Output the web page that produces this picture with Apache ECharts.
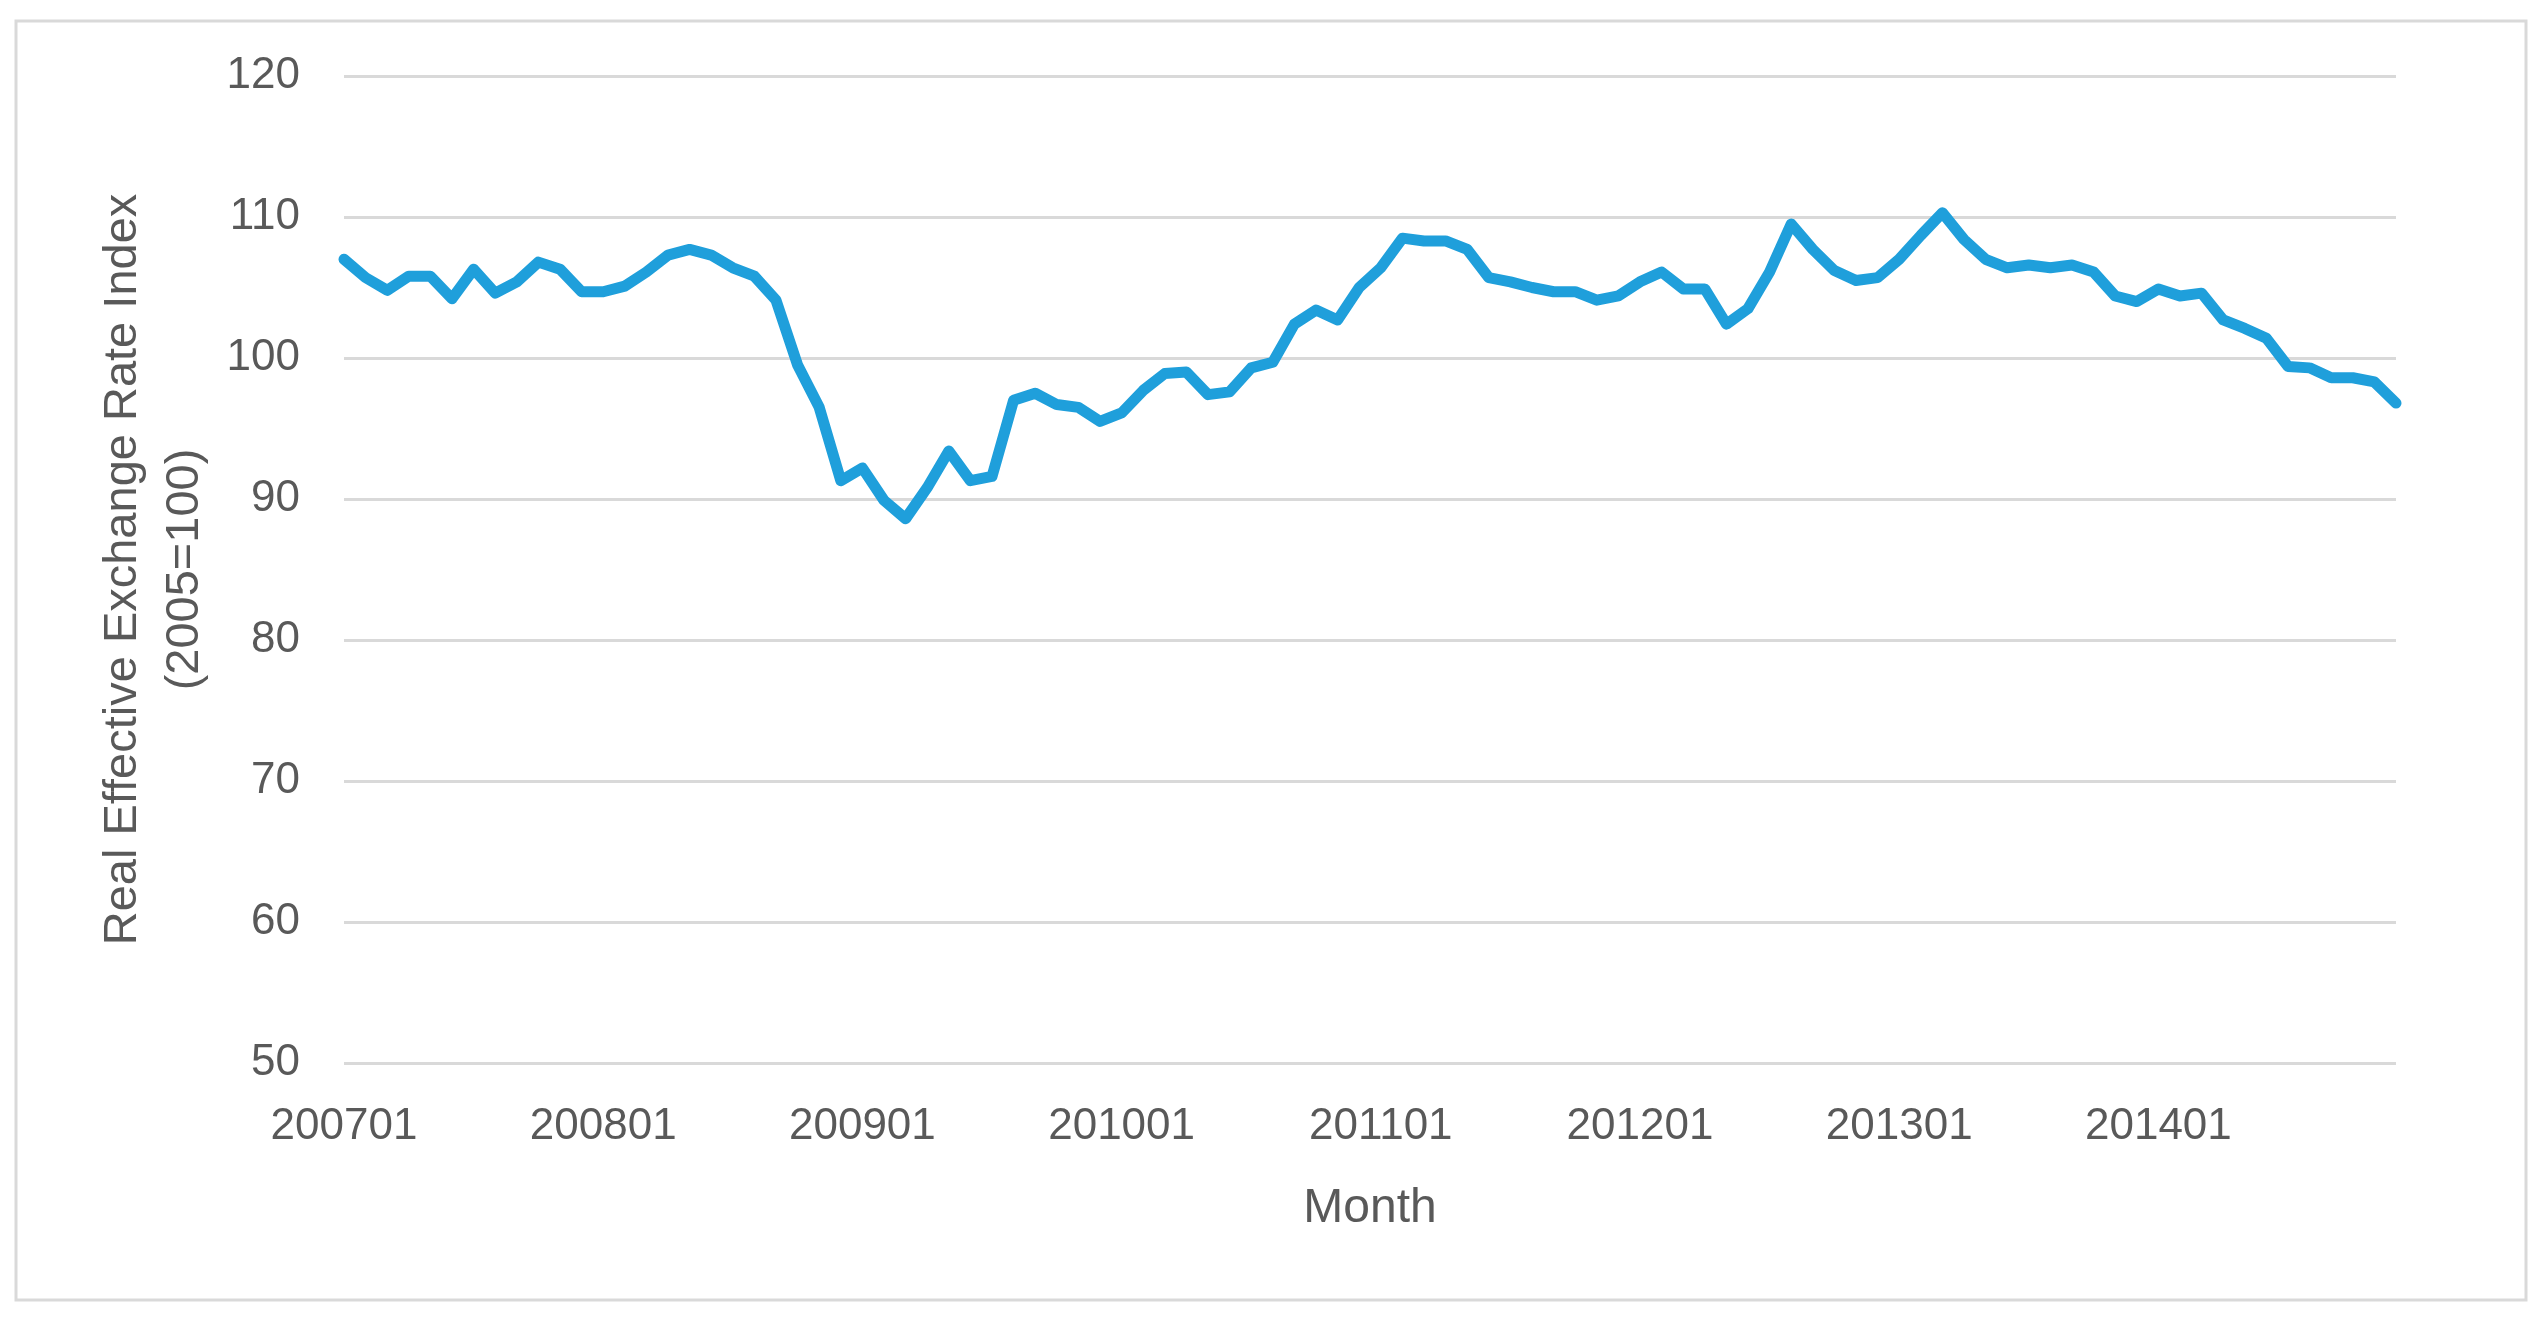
<!DOCTYPE html>
<html>
<head>
<meta charset="utf-8">
<script src="https://cdn.jsdelivr.net/npm/echarts@6/dist/echarts.min.js"></script>
<style>
  html, body { margin: 0; padding: 0; background: #fff; }
  #chart { width: 2544px; height: 1323px; }
</style>
</head>
<body>
<div id="chart"></div>
<script>
// Real effective exchange rate index, monthly 200701 - 201412
const years = [2007, 2008, 2009, 2010, 2011, 2012, 2013, 2014];
const months = [];
years.forEach(function (y) {
    for (let m = 1; m <= 12; m++) {
        months.push(String(y) + (m < 10 ? '0' : '') + m);
    }
});

const reerValues = [
    107.0, 105.7, 104.8, 105.8, 105.8, 104.2, 106.3, 104.6, 105.4, 106.8, 106.3, 104.7,
    104.7, 105.1, 106.1, 107.3, 107.7, 107.3, 106.4, 105.8, 104.1, 99.5, 96.5, 91.3,
    92.2, 89.9, 88.6, 90.8, 93.4, 91.3, 91.6, 97.0, 97.5, 96.7, 96.5, 95.5,
    96.1, 97.7, 98.9, 99.0, 97.4, 97.6, 99.3, 99.7, 102.4, 103.4, 102.7, 105.0,
    106.4, 108.5, 108.3, 108.3, 107.7, 105.7, 105.4, 105.0, 104.7, 104.7, 104.1, 104.4,
    105.4, 106.1, 104.9, 104.9, 102.4, 103.5, 106.1, 109.5, 107.7, 106.2, 105.5, 105.7,
    107.0, 108.7, 110.3, 108.4, 107.0, 106.4, 106.6, 106.4, 106.6, 106.1, 104.4, 104.0,
    104.9, 104.4, 104.6, 102.7, 102.1, 101.4, 99.4, 99.3, 98.6, 98.6, 98.3, 96.8
];

const yTicks = { min: 50, max: 120, step: 10 };

const chart = echarts.init(document.getElementById('chart'), null, { renderer: 'canvas' });

const textColor = '#595959';
const fontFamily = '"Liberation Sans", Arial, sans-serif';

chart.setOption({
    backgroundColor: '#fff',
    animation: false,
    graphic: [
        {
            type: 'rect',
            shape: { x: 16, y: 21, width: 2510, height: 1279 },
            style: { fill: 'none', stroke: '#d9d9d9', lineWidth: 3 }
        }
    ],
    grid: { left: 344, right: 148, top: 76, bottom: 260 },
    xAxis: {
        type: 'category',
        data: months,
        boundaryGap: false,
        name: 'Month',
        nameLocation: 'middle',
        nameGap: 122,
        nameTextStyle: { color: textColor, fontSize: 48, fontFamily: fontFamily },
        axisLine: { show: false },
        axisTick: { show: false },
        axisLabel: {
            interval: 11,
            margin: 42,
            color: textColor,
            fontSize: 44,
            fontFamily: fontFamily
        }
    },
    yAxis: {
        type: 'value',
        min: yTicks.min,
        max: yTicks.max,
        interval: yTicks.step,
        name: 'Real Effective Exchange Rate Index\n(2005=100)',
        nameLocation: 'middle',
        nameGap: 128,
        nameRotate: 90,
        nameTextStyle: { color: textColor, fontSize: 47, lineHeight: 62, fontFamily: fontFamily },
        axisLine: { show: false },
        axisTick: { show: false },
        axisLabel: { margin: 44, color: textColor, fontSize: 44, fontFamily: fontFamily },
        splitLine: { lineStyle: { color: '#d9d9d9', width: 3 } }
    },
    series: [
        {
            name: 'REER',
            type: 'line',
            data: reerValues,
            showSymbol: false,
            lineStyle: { color: '#1f9fdb', width: 11, join: 'round', cap: 'round' }
        }
    ]
});
</script>
</body>
</html>
